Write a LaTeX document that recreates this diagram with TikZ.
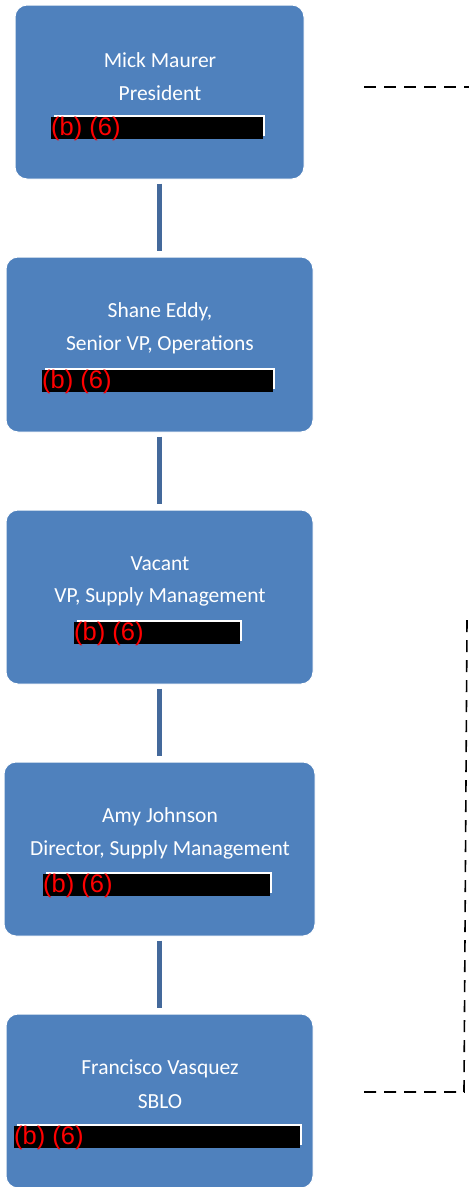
\documentclass[tikz,border=0pt]{standalone}
\usepackage{fontspec}
\setmainfont{Carlito}
\newfontfamily\redactfont{Liberation Sans}
\usetikzlibrary{positioning}
\definecolor{boxblue}{HTML}{4F81BD}
\definecolor{linkblue}{HTML}{44699B}
\tikzset{
  post/.style={fill=boxblue, draw=white, line width=1pt, rounded corners=12pt, inner sep=0pt},
  nameline/.style={text=white, font=\fontsize{21.5}{25}\selectfont, inner sep=0pt},
  redacttext/.style={text=red, font=\redactfont\fontsize{25.5}{25}\selectfont, inner sep=0pt, anchor=west},
  link/.style={linkblue, line width=5pt},
  dashlink/.style={black, line width=1.6pt, dash pattern=on 12pt off 8pt},
}
% redaction bar: name, left, right, top
\newcommand{\redbar}[4]{%
  \fill[white] (#2+3,#4-2) rectangle (#3+2,#4+19);
  \fill[black] (#2,#4) rectangle (#3,#4+22);
  \node[redacttext] (#1) at (#2,#4+12) {(b) (6)};
}

\begin{document}
\begin{tikzpicture}[x=1pt,y=-1pt]
\useasboundingbox (0,0) rectangle (469,1187);
%boxes
\node[post, minimum width=289pt, minimum height=174pt] (pres) at (159.5,92) {};
\node[post, minimum width=307pt, minimum height=175pt] (svp) at (159.5,344.5) {};
\node[post, minimum width=307pt, minimum height=174pt] (vpsm) at (159.5,597) {};
\node[post, minimum width=311pt, minimum height=174pt] (dsm) at (159.5,849) {};
\node[post, minimum width=307pt, minimum height=174pt] (sblo) at (159.5,1101) {};
%names and titles
\node[nameline] (pres1) at (160,60) {Mick Maurer};
\node[nameline] (pres2) at (160,93) {President};
\node[nameline] (svp1) at (160,312) {Shane Eddy,};
\node[nameline] (svp2) at (160,345) {Senior VP, Operations};
\node[nameline] (vpsm1) at (160,564) {Vacant};
\node[nameline] (vpsm2) at (160,597) {VP, Supply Management};
\node[nameline] (dsm1) at (160,817) {Amy Johnson};
\node[nameline] (dsm2) at (160,850) {Director, Supply Management};
\node[nameline] (sblo1) at (160,1069) {Francisco Vasquez};
\node[nameline] (sblo2) at (160,1102) {SBLO};
%redactions
\redbar{pres3}{51}{263}{117}
\redbar{svp3}{42}{273}{370}
\redbar{vpsm3}{74}{240}{622}
\redbar{dsm3}{43}{270}{874}
\redbar{sblo3}{14}{300}{1126}
%solid links
\draw[link] ([yshift=-4pt]pres.south) -- ([yshift=6pt]svp.north);
\draw[link] ([yshift=-4pt]svp.south) -- ([yshift=6pt]vpsm.north);
\draw[link] ([yshift=-4pt]vpsm.south) -- ([yshift=6pt]dsm.north);
\draw[link] ([yshift=-4pt]dsm.south) -- ([yshift=6pt]sblo.north);
%dashed links
\coordinate (prestail) at (364,87);
\coordinate (presend) at (469,87);
\coordinate (sblotail) at (364,1092);
\coordinate (sblocorner) at (464,1092);
\coordinate (sbloend) at (467,620);
\draw[dashlink] (prestail) -- (presend);
\draw[dashlink] (sblotail) -- (sblocorner) -- (sbloend);
\end{tikzpicture}
\end{document}
